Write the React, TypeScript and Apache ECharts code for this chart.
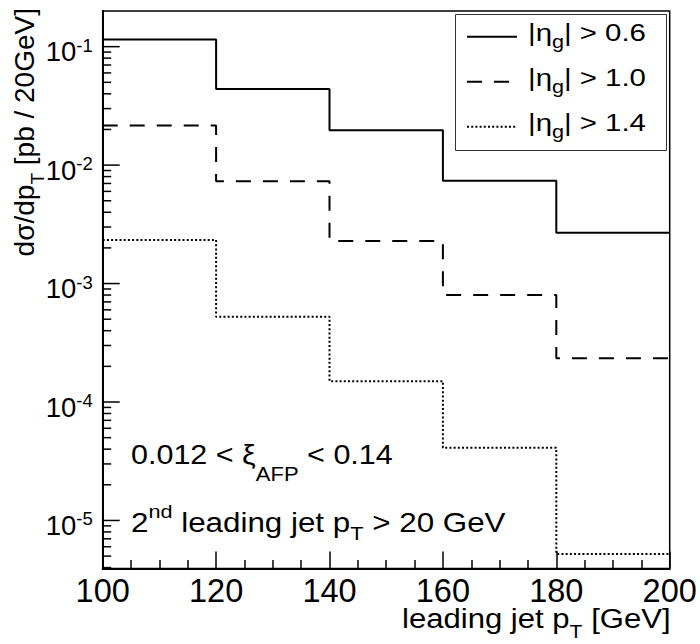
import React, { useEffect, useRef } from "react";
import * as echarts from "echarts";

// ---- data ----
const binEdges = [100, 120, 140, 160, 180, 200];
const eta06 = [0.115, 0.0438, 0.0197, 0.00737, 0.00268];
const eta10 = [0.0216, 0.0073, 0.00229, 0.0008, 0.000234];
const eta14 = [0.00233, 0.000525, 0.00015, 0.0000411, 0.0000052];
const seriesLabels = ["0.6", "1.0", "1.4"];
const xTickValues = [100, 120, 140, 160, 180, 200];
const yDecades = [1e-6, 1e-5, 1e-4, 1e-3, 1e-2, 1e-1];
const yMinorMultipliers = [2, 3, 4, 5, 6, 7, 8, 9];
const yMin = 3.93e-6;
const yMax = 0.2;

const FONT = "'Liberation Sans', Arial, Helvetica, sans-serif";

function stepPoints(vals: number[]) {
  const pts: number[][] = [];
  vals.forEach((v, i) => {
    pts.push([binEdges[i], v]);
    pts.push([binEdges[i + 1], v]);
  });
  return pts;
}

// rich token: shift > 0 moves down, < 0 moves up (relative to line centre)
function tok(fs: number, L: number, shift: number) {
  return {
    fontSize: fs,
    lineHeight: L,
    fontFamily: FONT,
    color: "#000",
    padding: shift >= 0 ? [2 * shift, 0, 0, 0] : [0, 0, -2 * shift, 0],
  };
}

function textEl(x: number, y: number, text: string, rich: any, align = "left", extra: any = {}) {
  return {
    type: "text",
    x,
    y,
    z: 20,
    ...extra,
    style: {
      text,
      rich,
      textAlign: align,
      textVerticalAlign: "middle",
      align,
      verticalAlign: "middle",
    },
  };
}

export default function App() {
  const ref = useRef<HTMLDivElement>(null);
  useEffect(() => {
    if (!ref.current) return;
    const chart = echarts.init(ref.current, null, { renderer: "svg" });

    const tickData: number[][] = [];
    yDecades.forEach((d) => {
      if (d >= yMin && d <= yMax) tickData.push([binEdges[0], d, 17]);
      yMinorMultipliers.forEach((m) => {
        const v = d * m;
        if (v >= yMin && v < yMax * 0.95) tickData.push([binEdges[0], v, 8.5]);
      });
    });

    const lineSeries = [eta06, eta10, eta14].map((vals, i) => ({
      type: "line",
      name: seriesLabels[i],
      data: stepPoints(vals),
      symbol: "none",
      silent: true,
      lineStyle: {
        color: "#000",
        width: 2,
        type: i === 0 ? "solid" : i === 1 ? [15, 12] : [2, 2.2],
      },
    }));

    // legend
    const legRich = { m: tok(24.5, 40, 0), g: tok(18, 40, 9.5) };
    const legendY = [36.7, 81.7, 126.7];
    const legendDash: any[] = [null, [15, 12], [2, 2.2]];
    const legendElems: any[] = [
      {
        type: "rect",
        shape: { x: 455.5, y: 14.5, width: 211, height: 136 },
        style: { fill: "#fff", stroke: "#333", lineWidth: 1 },
        z: 10,
      },
    ];
    legendY.forEach((y, i) => {
      legendElems.push({
        type: "line",
        shape: { x1: 467, y1: y, x2: 517, y2: y },
        style: { stroke: "#000", lineWidth: 2, lineDash: legendDash[i] },
        z: 11,
      });
      legendElems.push(
        textEl(528, y - 4.2, `{m||η}{g|g}{m|| > ${seriesLabels[i]}}`, legRich, "left", {
          scaleX: 1.2,
        })
      );
    });

    const AL = 60;
    const ann1Rich = { m: tok(27, AL, 0), s: tok(19.5, AL, 19) };
    const ann2Rich = { m: tok(27.5, AL, 0), n: tok(19, AL, -11), t: tok(19, AL, 11.5) };
    const titleRich = { m: tok(28, 44, 0), t: tok(19, 44, 13) };

    chart.setOption({
      animation: false,
      backgroundColor: "#fff",
      grid: {
        left: 102.7,
        right: 30.3,
        top: 11,
        bottom: 75.5,
        show: true,
        borderColor: "#000",
        borderWidth: 1.5,
        backgroundColor: "transparent",
      },
      xAxis: {
        type: "value",
        min: xTickValues[0],
        max: xTickValues[xTickValues.length - 1],
        interval: 20,
        axisLine: { show: true, onZero: false, lineStyle: { color: "#000", width: 2 } },
        axisTick: { show: true, inside: true, length: 17, lineStyle: { color: "#000", width: 1.5 } },
        minorTick: { show: true, splitNumber: 4, length: 8.5, lineStyle: { color: "#000", width: 1.5 } },
        splitLine: { show: false },
        minorSplitLine: { show: false },
        axisLabel: { fontSize: 32.5, fontFamily: FONT, color: "#000", margin: 6 },
      },
      yAxis: {
        type: "log",
        logBase: 10,
        min: yMin,
        max: yMax,
        axisLine: { show: true, lineStyle: { color: "#000", width: 2 } },
        axisTick: { show: false },
        minorTick: { show: false },
        splitLine: { show: false },
        axisLabel: {
          margin: 10,
          showMinLabel: false,
          showMaxLabel: false,
          formatter: (val: number) => {
            const e = Math.log10(val);
            const r = Math.round(e);
            if (Math.abs(e - r) < 1e-6) return `{m|10}{s|${r}}`;
            return "";
          },
          rich: {
            m: tok(27.5, 40, 5),
            s: tok(18.5, 40, -1.5),
          },
        },
      },
      series: [
        ...lineSeries,
        {
          type: "custom",
          silent: true,
          clip: false,
          encode: { x: 0, y: 1 },
          data: tickData,
          renderItem: (params: any, api: any) => {
            const p = api.coord([api.value(0), api.value(1)]);
            const len = api.value(2);
            return {
              type: "line",
              shape: { x1: p[0], y1: p[1], x2: p[0] + len, y2: p[1] },
              style: { stroke: "#000", lineWidth: 1.5 },
            };
          },
        },
      ],
      graphic: [
        ...legendElems,
        textEl(402, 618.5, "{m|leading jet p}{t|T}{m| [GeV]}", titleRich, "left", { scaleX: 1.11 }),
        textEl(24, 8, "{m|dσ/dp}{t|T}{m| [pb / 20GeV]}", titleRich, "right", {
          rotation: Math.PI / 2,
        }),
        textEl(131, 455, "{m|0.012 < ξ}{s|AFP}{m| < 0.14}", ann1Rich, "left", { scaleX: 1.13 }),
        textEl(131, 522, "{m|2}{n|nd}{m| leading jet p}{t|T}{m| > 20 GeV}", ann2Rich, "left", {
          scaleX: 1.14,
        }),
      ],
    });
    return () => chart.dispose();
  }, []);
  return (
    <div
      ref={ref}
      style={{ position: "absolute", left: 0, top: 0, width: 700, height: 644 }}
    />
  );
}
